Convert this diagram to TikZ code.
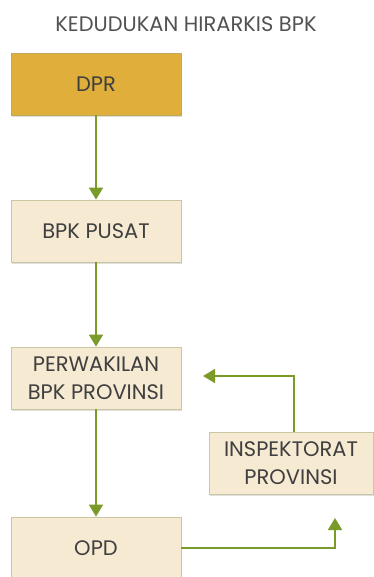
\documentclass[tikz,border=0pt]{standalone}
\usepackage{fontspec}
\setmainfont{Poppins}
\usepackage{tikz}
\usetikzlibrary{arrows.meta,shadows}

\definecolor{gold}{HTML}{E0AE3A}
\definecolor{goldline}{HTML}{C2A85A}
\definecolor{cream}{HTML}{F6EAD3}
\definecolor{creamline}{HTML}{C9C7A2}
\definecolor{olive}{HTML}{7A9A2A}
\definecolor{textgray}{HTML}{3F3F3F}

\begin{document}
\begin{tikzpicture}[x=1pt, y=-1pt,
        box/.style = {draw=creamline, fill=cream, line width=0.8pt, inner sep=0pt,
                      minimum width=170pt, minimum height=62pt, align=center,
                      text=textgray, font=\fontsize{21}{28}\selectfont,
                      drop shadow={opacity=0.25, shadow xshift=1pt, shadow yshift=-2pt}},
        topbox/.style = {box, draw=goldline, fill=gold},
        link/.style = {draw=olive, line width=1.8pt, -{Triangle[width=14pt,length=12pt]}}]
                % Frame of the picture
                \useasboundingbox (0,0) rectangle (373,577);

                % Title
                \node[text=textgray!90, font=\fontsize{21}{24}\selectfont] (title) at (186,24) {KEDUDUKAN HIRARKIS BPK};

                % Main column
                \node[topbox] (dpr) at (96,84) {DPR};
                \node[box] (pusat) at (96,231) {BPK PUSAT};
                \node[box] (perwakilan) at (96,378) {PERWAKILAN\\BPK PROVINSI};
                \node[box] (opd) at (96,548) {OPD};

                % Side box
                \node[box, minimum width=164pt] (inspektorat) at (291,463) {INSPEKTORAT\\PROVINSI};

                % Free ends of the side arrows
                \coordinate (opdend) at (335,518);
                \coordinate (perwend) at (203,376);

                % Arrows down the column
                \draw[link] (dpr) -- (pusat);
                \draw[link] (pusat) -- (perwakilan);
                \draw[link] (perwakilan) -- (opd);

                % Arrows round the side box
                \draw[link] (opd.east) -| (opdend);
                \draw[link] ([xshift=3pt]inspektorat.north) |- (perwend);
            \end{tikzpicture}
\end{document}
